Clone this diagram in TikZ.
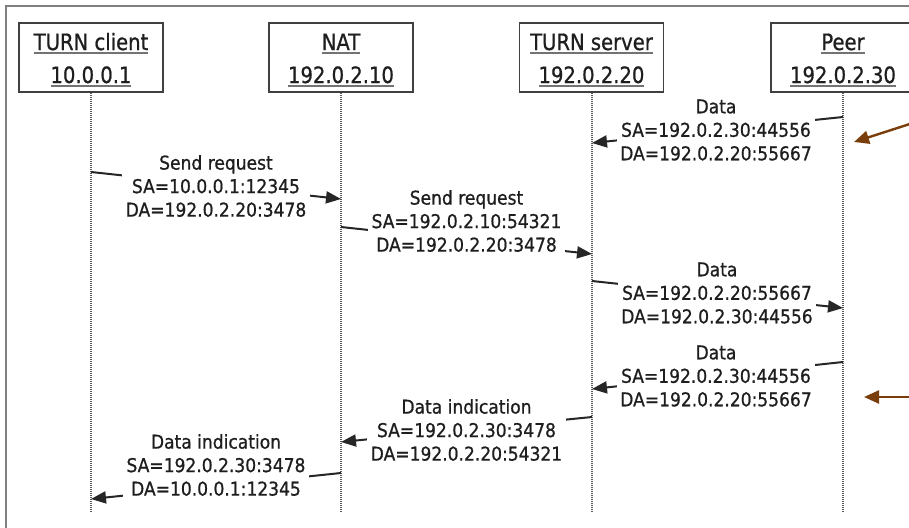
\documentclass[tikz,border=0pt]{standalone}
\usepackage{fontspec}
\usetikzlibrary{arrows.meta}
\newfontfamily\msgfont[FakeStretch=0.9,FakeBold=0.8]{DejaVu Sans}
\newfontfamily\hdrfont[FakeStretch=0.87,FakeBold=0.8]{DejaVu Sans}
\definecolor{annot}{RGB}{122,62,12}
\definecolor{ink}{RGB}{30,30,30}
% underlined header line with a thicker, softer rule
\newcommand{\hdrline}[1]{\setbox0=\hbox{#1}\leavevmode\rlap{\color{black!55}\rule[-3.5pt]{\wd0}{1.5pt}}\box0}

\begin{document}
\begin{tikzpicture}[x=1pt,y=-1pt,
  hdrbox/.style={draw=black!75, line width=1.9pt, fill=white, minimum width=144pt, minimum height=69pt, inner sep=0pt},
  hdrtxt/.style={font=\hdrfont\fontsize{22.5}{27}\selectfont, text=ink, inner sep=0pt},
  msg/.style={font=\msgfont\fontsize{19}{23.5}\selectfont, text=ink, align=center, fill=white, inner sep=3.5pt},
  life/.style={draw=black!65, line width=1.2pt, dash pattern=on 1pt off 1pt},
  wire/.style={draw=black!85, line width=2pt, -{Triangle[length=15pt,width=12pt]}},
  note/.style={draw=annot, line width=2.4pt, -{Triangle[length=15pt,width=13pt]}},
  frame/.style={draw=black!50, line width=2pt},
]
\useasboundingbox (0,0) rectangle (909,527);
\clip (0,0) rectangle (909,527);
\fill[white] (0,0) rectangle (909,527);

% outer frame
\draw[frame] (6,600) -- (6,6) -- (1000,6);

% participants
\node[hdrbox] (client) at (91,57.5) {};
\node[hdrbox] (nat)    at (341,57.5) {};
\node[hdrbox] (server) at (591.5,57.5) {};
\node[hdrbox] (peer)   at (843,57.5) {};

\node[hdrtxt, anchor=base] (clientA) at (91,50) {\hdrline{TURN client}};
\node[hdrtxt, anchor=base] (clientB) at (91,83) {\hdrline{10.0.0.1}};
\node[hdrtxt, anchor=base] (natA)    at (341,50) {\hdrline{NAT}};
\node[hdrtxt, anchor=base] (natB)    at (341,83) {\hdrline{192.0.2.10}};
\node[hdrtxt, anchor=base] (serverA) at (591.5,50) {\hdrline{TURN server}};
\node[hdrtxt, anchor=base] (serverB) at (591.5,83) {\hdrline{192.0.2.20}};
\node[hdrtxt, anchor=base] (peerA)   at (843,50) {\hdrline{Peer}};
\node[hdrtxt, anchor=base] (peerB)   at (843,83) {\hdrline{192.0.2.30}};

% lifelines
\coordinate (clientEnd) at (91,512);
\coordinate (natEnd)    at (341,512);
\coordinate (serverEnd) at (592,512);
\coordinate (peerEnd)   at (843,512);
\draw[life] (client.south -| clientEnd) -- (clientEnd);
\draw[life] (nat.south -| natEnd) -- (natEnd);
\draw[life] (server.south -| serverEnd) -- (serverEnd);
\draw[life] (peer.south -| peerEnd) -- (peerEnd);

% message end points on the lifelines
\coordinate (m1a) at (peerEnd |- 0,117);   \coordinate (m1b) at (serverEnd |- 0,143);
\coordinate (m2a) at (clientEnd |- 0,172); \coordinate (m2b) at (natEnd |- 0,199);
\coordinate (m3a) at (natEnd |- 0,227);    \coordinate (m3b) at (serverEnd |- 0,254);
\coordinate (m4a) at (serverEnd |- 0,281); \coordinate (m4b) at (peerEnd |- 0,308);
\coordinate (m5a) at (peerEnd |- 0,362);   \coordinate (m5b) at (serverEnd |- 0,389);
\coordinate (m6a) at (serverEnd |- 0,417); \coordinate (m6b) at (natEnd |- 0,442);
\coordinate (m7a) at (natEnd |- 0,473);    \coordinate (m7b) at (clientEnd |- 0,499);

\draw[wire] (m1a) -- (m1b);
\draw[wire] (m2a) -- (m2b);
\draw[wire] (m3a) -- (m3b);
\draw[wire] (m4a) -- (m4b);
\draw[wire] (m5a) -- (m5b);
\draw[wire] (m6a) -- (m6b);
\draw[wire] (m7a) -- (m7b);

% message labels (white fill hides the middle of each arrow)
\node[msg] (t1) at (716,130) {Data\\SA=192.0.2.30:44556\\DA=192.0.2.20:55667};
\node[msg] (t2) at (216,186) {Send request\\SA=10.0.0.1:12345\\DA=192.0.2.20:3478};
\node[msg] (t3) at (466.5,221) {Send request\\SA=192.0.2.10:54321\\DA=192.0.2.20:3478};
\node[msg] (t4) at (717,293) {Data\\SA=192.0.2.20:55667\\DA=192.0.2.30:44556};
\node[msg] (t5) at (716,376) {Data\\SA=192.0.2.30:44556\\DA=192.0.2.20:55667};
\node[msg] (t6) at (466.5,430) {Data indication\\SA=192.0.2.30:3478\\DA=192.0.2.20:54321};
\node[msg] (t7) at (216,465) {Data indication\\SA=192.0.2.30:3478\\DA=10.0.0.1:12345};

% annotation arrows
\coordinate (n1a) at (916,122); \coordinate (n1b) at (854,142);
\coordinate (n2a) at (916,397); \coordinate (n2b) at (864,397);
\draw[note] (n1a) -- (n1b);
\draw[note] (n2a) -- (n2b);
\end{tikzpicture}
\end{document}
